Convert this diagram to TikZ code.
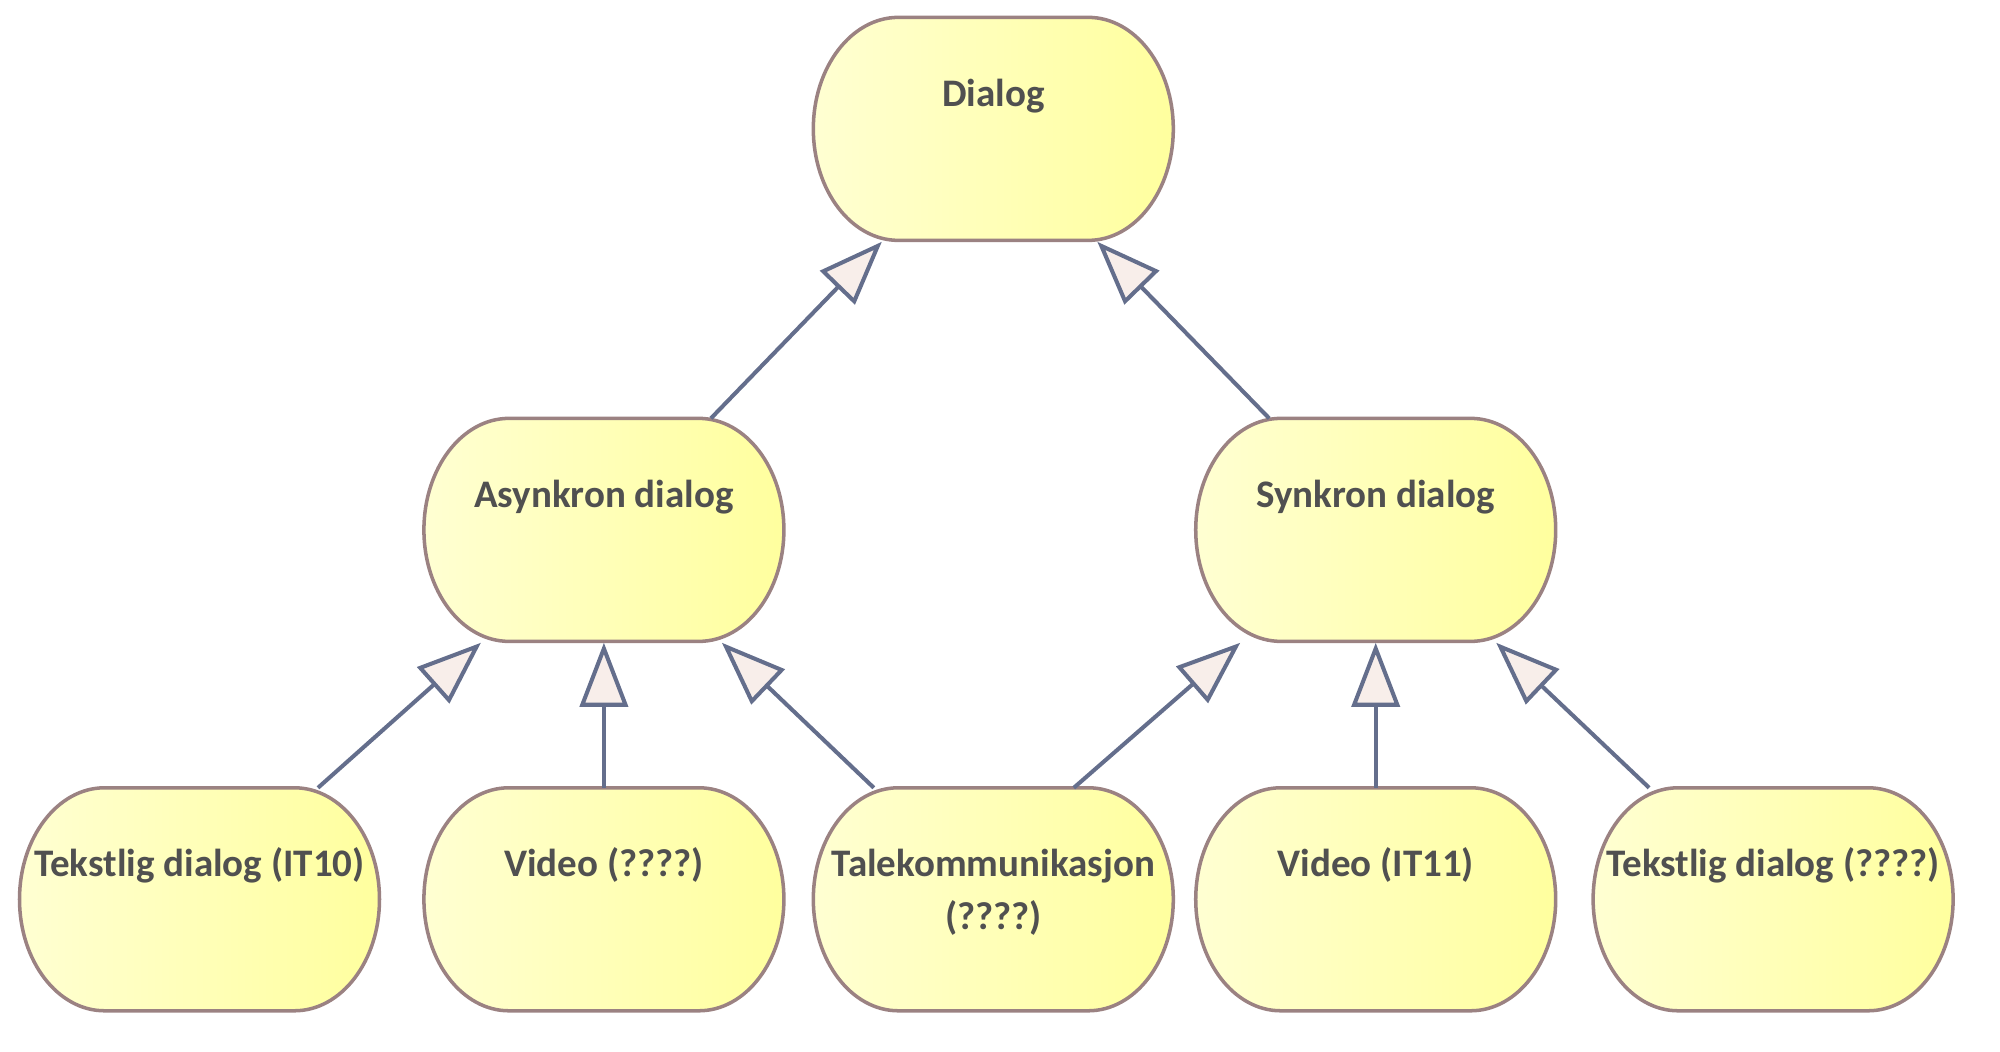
\documentclass[tikz,border=0pt]{standalone}
\usepackage{fontspec}
\setmainfont{Carlito}
\usetikzlibrary{arrows.meta,positioning,backgrounds}
\definecolor{kant}{RGB}{155,130,130}
\definecolor{linje}{RGB}{100,110,140}
\definecolor{pilfyll}{RGB}{248,238,234}
\definecolor{tekstgraa}{RGB}{80,80,80}
\definecolor{gullys}{RGB}{255,255,210}
\definecolor{gulmork}{RGB}{255,255,158}

% rounded class box drawn behind a named node
\newcommand{\klasseform}[1]{%
  \path[draw=kant,line width=1pt,left color=gullys,right color=gulmork]
    (#1.north) -- ++(9.5mm,0)
    arc[start angle=90,end angle=-90,x radius=8.5mm,y radius=11.15mm]
    -- ++(-19mm,0)
    arc[start angle=270,end angle=90,x radius=8.5mm,y radius=11.15mm] -- cycle;}

\begin{document}
\begin{tikzpicture}[
klasse/.style={minimum width=36mm,minimum height=22.3mm,inner sep=0pt,align=center,
  text height=8.8mm,text depth=13.5mm,text=tekstgraa,font=\fontsize{11.1}{15}\selectfont\bfseries},
tolinjer/.style={text height=14.1mm,text depth=8.2mm},
arv/.style={-{Triangle[length=6.4mm,width=4.8mm,fill=pilfyll]},line width=1.15pt,draw=linje,line join=round}
]
\useasboundingbox (0,0) rectangle (20,-10.52);
\node[klasse] (tekstA) at (1.995,-9.0) {Tekstlig dialog (IT10)};
\node[klasse,right=4.3mm of tekstA] (videoA) {Video (????)};
\node[klasse,tolinjer,right=2.8mm of videoA] (tale) {Talekommunikasjon\\(????)};
\node[klasse,right=2.1mm of tale] (videoB) {Video (IT11)};
\node[klasse,right=3.6mm of videoB] (tekstB) {Tekstlig dialog (????)};
\node[klasse,above=14.5mm of videoA] (asynk) {Asynkron dialog};
\node[klasse,above=14.5mm of videoB] (synk) {Synkron dialog};
\node[klasse,above=54.6mm of tale] (dialog) {Dialog};
\begin{scope}[on background layer]
\foreach \n in {tekstA,videoA,tale,videoB,tekstB,asynk,synk,dialog}
  {\klasseform{\n}}
\end{scope}
\draw[arv] ([xshift=10.7mm]asynk.north) -- ([xshift=-11.15mm]dialog.south);
\draw[arv] ([xshift=-10.65mm]synk.north) -- ([xshift=10.4mm]dialog.south);
\draw[arv] ([xshift=11.85mm]tekstA.north) -- ([xshift=-12.3mm]asynk.south);
\draw[arv] (videoA.north) -- (asynk.south);
\draw[arv] ([xshift=-11.95mm]tale.north) -- ([xshift=11.8mm]asynk.south);
\draw[arv] ([xshift=8.05mm]tale.north) -- ([xshift=-13.55mm]synk.south);
\draw[arv] (videoB.north) -- (synk.south);
\draw[arv] ([xshift=-12.4mm]tekstB.north) -- ([xshift=12.05mm]synk.south);
\end{tikzpicture}
\end{document}
